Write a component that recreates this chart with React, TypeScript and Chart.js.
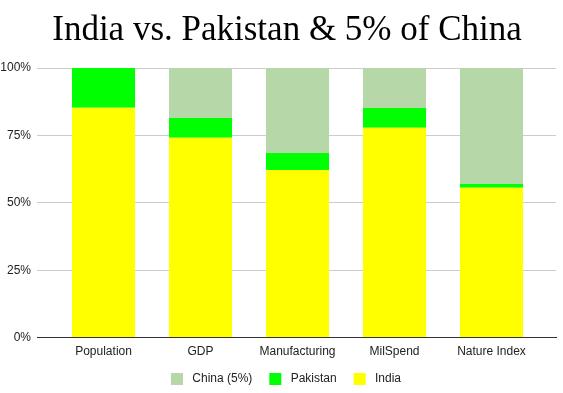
import React, { useEffect, useRef } from "react";
import { Chart, registerables } from "chart.js";

Chart.register(...registerables);

const categories = ["Population", "GDP", "Manufacturing", "MilSpend", "Nature Index"];
const india = [85.3, 74.1, 62.2, 77.8, 55.6];
const pakistan = [14.7, 7.4, 6.3, 7.4, 1.4];
const china5 = [0, 18.5, 31.5, 14.8, 43.0];
const yTicks = [0, 25, 50, 75, 100];

export default function App() {
  const ref = useRef<HTMLCanvasElement | null>(null);
  useEffect(() => {
    document.body.style.margin = "0";
    if (!ref.current) return;
    const toPts = (arr: number[]) => arr.map((v, i) => ({ x: i, y: v }));
    const font = "'Liberation Sans', Arial, sans-serif";
    const defaultLabels = (Chart as any).defaults.plugins.legend.labels.generateLabels;
    const shiftBlocks = {
      id: "shiftBlocks",
      afterLayout(chart: any) {
        if (chart.titleBlock) {
          chart.titleBlock.left += 18;
          chart.titleBlock.width -= 18;
        }
        if (chart.legend) {
          chart.legend.left += 16;
          chart.legend.width -= 16;
        }
      },
    };
    const chart = new Chart(ref.current, {
      type: "bar",
      data: {
        datasets: [
          { label: "India", data: toPts(india), backgroundColor: "#ffff00" },
          { label: "Pakistan", data: toPts(pakistan), backgroundColor: "#00ff00" },
          { label: "China (5%)", data: toPts(china5), backgroundColor: "#b6d7a8" },
        ],
      } as any,
      plugins: [shiftBlocks],
      options: {
        animation: false,
        responsive: false,
        maintainAspectRatio: false,
        datasets: { bar: { barPercentage: 0.65, categoryPercentage: 1 } },
        layout: { padding: { left: 0, right: 7, top: 0, bottom: -2 } },
        plugins: {
          title: {
            display: true,
            text: "India vs. Pakistan & 5% of China",
            font: { family: "'Liberation Serif', 'Times New Roman', serif", size: 35, weight: "normal" },
            color: "#000",
            padding: { top: 10, bottom: 16 },
          },
          legend: {
            position: "bottom",
            reverse: true,
            labels: {
              boxWidth: 12,
              boxHeight: 12,
              font: { family: font, size: 12 },
              color: "#222",
              padding: 7,
              generateLabels: (c: any) =>
                defaultLabels(c).map((l: any, i: number) => ({
                  ...l,
                  text: " " + l.text + (i === 0 ? "" : "   "),
                })),
            },
          },
          tooltip: { enabled: false },
        },
        scales: {
          x: {
            type: "linear",
            stacked: true,
            offset: false,
            min: -0.686,
            max: 4.665,
            afterBuildTicks: (s: any) => {
              s.ticks = categories.map((_, i) => ({ value: i }));
            },
            grid: { display: false, offset: false, drawTicks: false },
            border: { display: true, color: "#333" },
            ticks: {
              autoSkip: false,
              maxRotation: 0,
              padding: 7,
              color: "#222",
              font: { family: font, size: 12 },
              callback: (v: any) => {
                const n = Number(v);
                return Number.isInteger(n) && categories[n] ? categories[n] : "";
              },
            },
          },
          y: {
            stacked: true,
            min: 0,
            max: 100,
            afterBuildTicks: (s: any) => {
              s.ticks = yTicks.map((v) => ({ value: v }));
            },
            afterFit: (s: any) => {
              s.width = 37;
            },
            grid: { color: "#cccccc", drawTicks: false },
            border: { display: false },
            ticks: {
              padding: 6,
              color: "#222",
              font: { family: font, size: 12 },
              callback: (v: any) => v + "%",
            },
          },
        },
      } as any,
    });
    return () => chart.destroy();
  }, []);
  return (
    <div style={{ width: 563, height: 393 }}>
      <canvas ref={ref} width={563} height={393} style={{ width: 563, height: 393 }} />
    </div>
  );
}
